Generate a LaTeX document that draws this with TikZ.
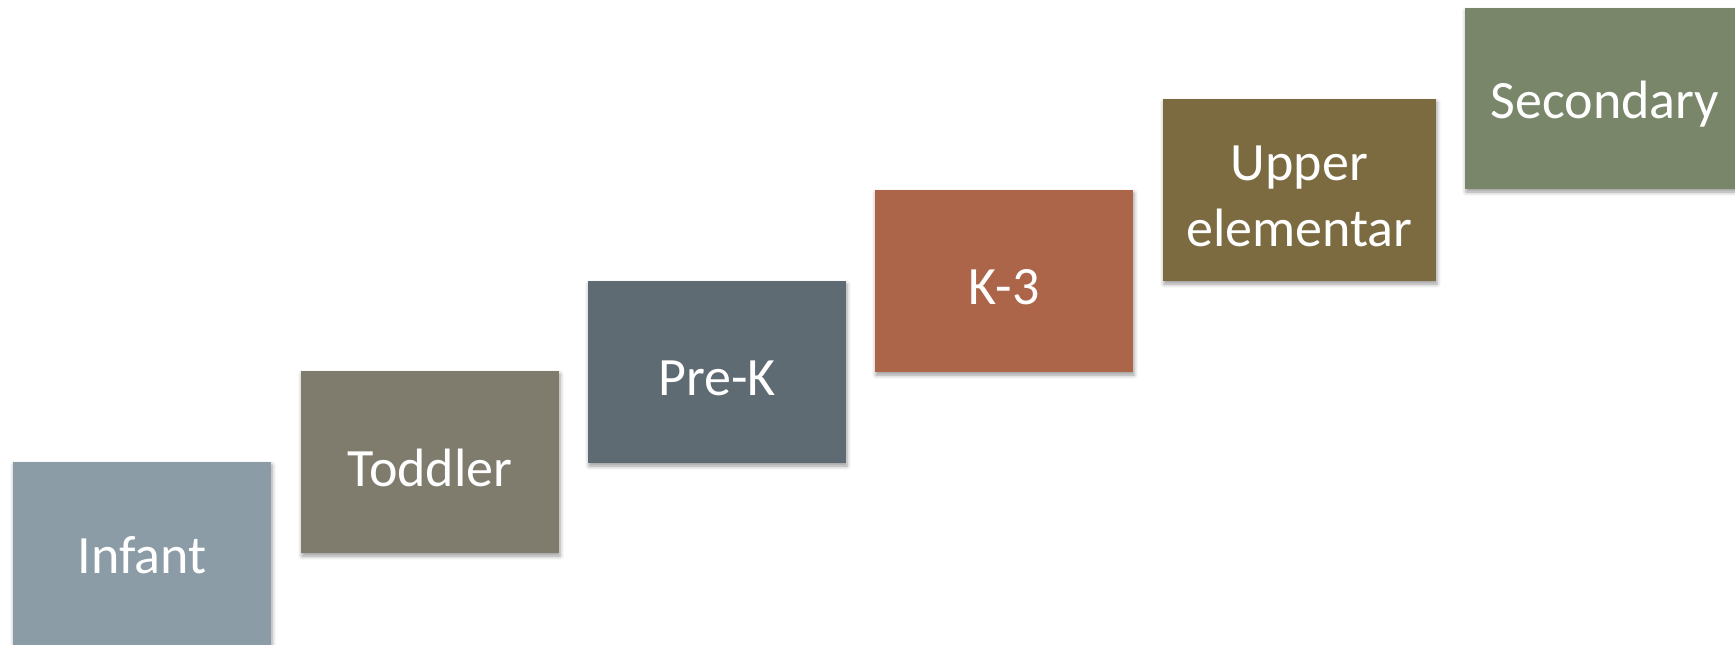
\documentclass[tikz,border=0pt]{standalone}
\usepackage{fontspec}
\setmainfont{Carlito}
\usetikzlibrary{shadows.blur}
\definecolor{cInfant}{HTML}{8C9CA6}
\definecolor{cToddler}{HTML}{7F7C6D}
\definecolor{cPreK}{HTML}{5E6B72}
\definecolor{cKthree}{HTML}{AC6548}
\definecolor{cUpper}{HTML}{7C6B41}
\definecolor{cSecondary}{HTML}{798669}
\tikzset{
  stage/.style={
    anchor=north west, inner sep=0pt, outer sep=0pt,
    minimum width=258pt, minimum height=182pt,
    blur shadow={shadow xshift=1pt, shadow yshift=-3pt,
                 shadow blur radius=4pt, shadow opacity=40}
  },
  stagetext/.style={
    text=white, align=center, yshift=-6pt,
    font=\fontsize{54}{66}\selectfont
  }
}
\begin{document}
\begin{tikzpicture}[x=1pt,y=-1pt]
  \useasboundingbox (0,0) rectangle (1735,645);
  \node[stage, fill=cInfant, minimum height=190pt,
        label={[stagetext, yshift=8pt]center:Infant}] (infant) at (13,462) {};
  \node[stage, fill=cToddler,
        label={[stagetext]center:Toddler}] (toddler) at (301,371) {};
  \node[stage, fill=cPreK,
        label={[stagetext]center:Pre-K}] (prek) at (588,281) {};
  \node[stage, fill=cKthree,
        label={[stagetext]center:K-3}] (kthree) at (875,190) {};
  \node[stage, fill=cUpper, minimum width=273pt,
        label={[stagetext]center:Upper\\elementar}] (upper) at (1163,99) {};
  \node[stage, fill=cSecondary, minimum width=280pt, minimum height=181pt,
        label={[stagetext]center:Secondary}] (secondary) at (1465,8) {};
\end{tikzpicture}
\end{document}
